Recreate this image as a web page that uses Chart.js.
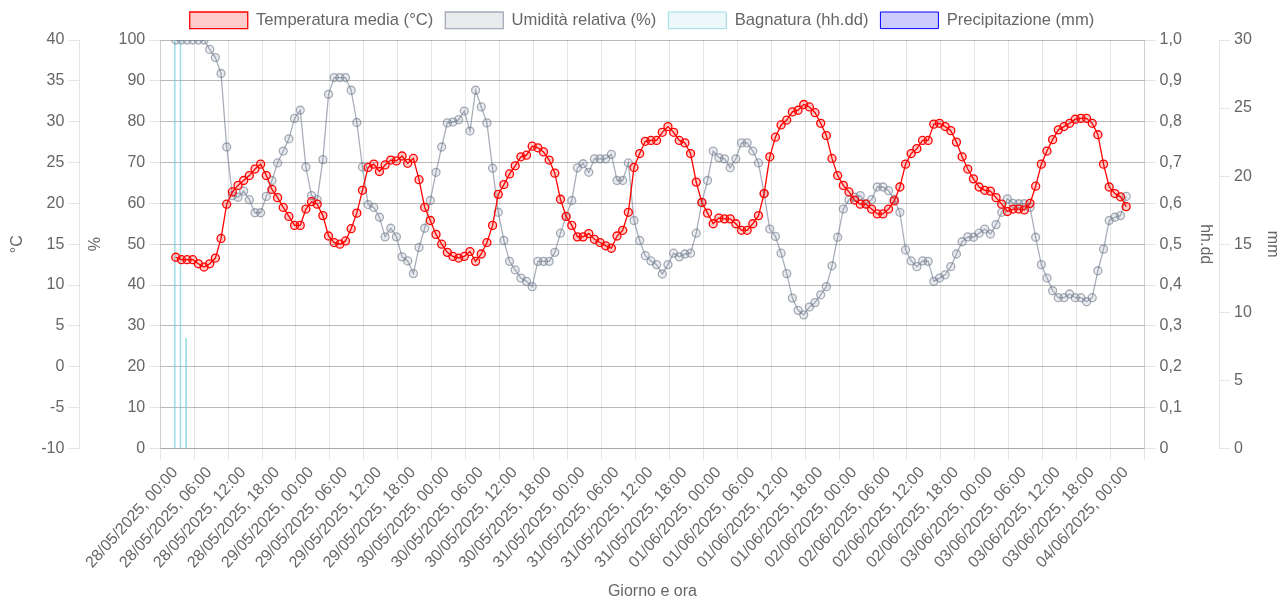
<!DOCTYPE html>
<html>
<head>
<meta charset="utf-8">
<script src="https://cdn.jsdelivr.net/npm/chart.js@4.4.1/dist/chart.umd.min.js"></script>
<style>
html, body { margin: 0; padding: 0; background: #ffffff; }
#wrap { width: 1284px; height: 598px; position: relative; }
</style>
</head>
<body>
<div id="wrap"><canvas id="chart"></canvas></div>
<script>
// ---- tick labels of the time axis (every 6 hours) ----
const xTickLabels = [
  '28/05/2025, 00:00', '28/05/2025, 06:00', '28/05/2025, 12:00', '28/05/2025, 18:00',
  '29/05/2025, 00:00', '29/05/2025, 06:00', '29/05/2025, 12:00', '29/05/2025, 18:00',
  '30/05/2025, 00:00', '30/05/2025, 06:00', '30/05/2025, 12:00', '30/05/2025, 18:00',
  '31/05/2025, 00:00', '31/05/2025, 06:00', '31/05/2025, 12:00', '31/05/2025, 18:00',
  '01/06/2025, 00:00', '01/06/2025, 06:00', '01/06/2025, 12:00', '01/06/2025, 18:00',
  '02/06/2025, 00:00', '02/06/2025, 06:00', '02/06/2025, 12:00', '02/06/2025, 18:00',
  '03/06/2025, 00:00', '03/06/2025, 06:00', '03/06/2025, 12:00', '03/06/2025, 18:00',
  '04/06/2025, 00:00'
];

// first hourly reading, in hours after 28/05/2025 00:00
const firstReadingHour = 2.75;

// ---- series (hourly readings) ----
const temperature = [
  13.4, 13.1, 13.1, 13.1, 12.6, 12.2, 12.6, 13.3, 15.7, 19.9,
  21.4, 22.2, 22.8, 23.4, 24.2, 24.8, 23.4, 21.7, 20.7, 19.5,
  18.4, 17.3, 17.3, 19.3, 20.2, 19.9, 18.5, 16.0, 15.2, 15.0,
  15.4, 16.9, 18.8, 21.6, 24.4, 24.8, 23.9, 24.7, 25.3, 25.2,
  25.8, 24.9, 25.5, 22.9, 19.5, 17.9, 16.2, 15.0, 14.0, 13.5,
  13.3, 13.5, 14.1, 12.9, 13.8, 15.2, 17.3, 21.1, 22.3, 23.6,
  24.6, 25.7, 25.9, 27.0, 26.8, 26.3, 25.3, 23.7, 20.5, 18.4,
  17.3, 15.9, 15.9, 16.3, 15.6, 15.2, 14.8, 14.5, 16.0, 16.7,
  18.9, 24.4, 26.1, 27.6, 27.7, 27.7, 28.7, 29.4, 28.7, 27.7,
  27.4, 26.1, 22.6, 20.1, 18.8, 17.5, 18.2, 18.1, 18.1, 17.5,
  16.7, 16.7, 17.5, 18.5, 21.2, 25.7, 28.1, 29.6, 30.2, 31.2,
  31.4, 32.1, 31.8, 31.1, 29.8, 28.3, 25.5, 23.4, 22.2, 21.4,
  20.4, 19.9, 19.9, 19.3, 18.7, 18.7, 19.3, 20.3, 22.0, 24.8,
  26.1, 26.7, 27.7, 27.7, 29.7, 29.8, 29.4, 28.9, 27.5, 25.7,
  24.2, 23.0, 22.0, 21.6, 21.5, 20.7, 19.9, 19.0, 19.3, 19.3,
  19.2, 20.0, 22.1, 24.8, 26.4, 27.8, 29.0, 29.4, 29.8, 30.3,
  30.4, 30.4, 29.8, 28.4, 24.8, 22.0, 21.2, 20.8, 19.6
];

const humidity = [
  100, 100, 100, 100, 100, 100, 97.7, 95.7, 91.8, 73.8,
  61.9, 61.5, 63.0, 60.9, 57.7, 57.7, 61.7, 65.6, 69.9, 72.8,
  75.8, 80.8, 82.8, 68.9, 61.9, 60.9, 70.7, 86.7, 90.8, 90.8,
  90.8, 87.7, 79.8, 68.9, 59.7, 59.0, 56.6, 51.8, 53.9, 51.8,
  46.9, 45.9, 42.8, 49.2, 53.9, 60.7, 67.6, 73.8, 79.7, 79.9,
  80.5, 82.6, 77.7, 87.7, 83.6, 79.7, 68.6, 57.8, 50.9, 45.8,
  43.7, 41.7, 40.9, 39.6, 45.8, 45.8, 45.8, 48.0, 52.7, 56.8,
  60.7, 68.7, 69.7, 67.6, 70.9, 70.9, 70.9, 72.0, 65.6, 65.6,
  69.9, 55.8, 50.9, 47.2, 45.9, 45.0, 42.7, 45.0, 47.8, 46.9,
  47.6, 47.8, 52.7, 60.3, 65.6, 72.8, 71.2, 70.9, 68.7, 70.9,
  74.8, 74.8, 72.8, 69.9, 62.4, 53.7, 51.9, 47.8, 42.8, 36.8,
  33.8, 32.7, 34.6, 35.7, 37.6, 39.6, 44.7, 51.7, 58.6, 60.9,
  61.5, 61.9, 59.9, 60.9, 64.0, 64.0, 63.1, 61.0, 57.8, 48.6,
  45.9, 44.5, 45.9, 45.8, 40.9, 41.7, 42.5, 44.5, 47.6, 50.6,
  51.8, 51.7, 52.7, 53.7, 52.5, 54.8, 57.8, 61.1, 60.0, 59.9,
  59.9, 59.0, 51.7, 45.0, 41.7, 38.6, 36.9, 36.9, 37.8, 36.9,
  36.9, 35.9, 36.9, 43.5, 48.8, 55.8, 56.6, 57.0, 61.7
];

const wetness = [
  1.0, 1.0, 0.27, 0, 0, 0, 0, 0, 0, 0,
  0, 0, 0, 0, 0, 0, 0, 0, 0, 0,
  0, 0, 0, 0, 0, 0, 0, 0, 0, 0,
  0, 0, 0, 0, 0, 0, 0, 0, 0, 0,
  0, 0, 0, 0, 0, 0, 0, 0, 0, 0,
  0, 0, 0, 0, 0, 0, 0, 0, 0, 0,
  0, 0, 0, 0, 0, 0, 0, 0, 0, 0,
  0, 0, 0, 0, 0, 0, 0, 0, 0, 0,
  0, 0, 0, 0, 0, 0, 0, 0, 0, 0,
  0, 0, 0, 0, 0, 0, 0, 0, 0, 0,
  0, 0, 0, 0, 0, 0, 0, 0, 0, 0,
  0, 0, 0, 0, 0, 0, 0, 0, 0, 0,
  0, 0, 0, 0, 0, 0, 0, 0, 0, 0,
  0, 0, 0, 0, 0, 0, 0, 0, 0, 0,
  0, 0, 0, 0, 0, 0, 0, 0, 0, 0,
  0, 0, 0, 0, 0, 0, 0, 0, 0, 0,
  0, 0, 0, 0, 0, 0, 0, 0, 0
];

const rain = [
  0, 0, 0, 0, 0, 0, 0, 0, 0, 0,
  0, 0, 0, 0, 0, 0, 0, 0, 0, 0,
  0, 0, 0, 0, 0, 0, 0, 0, 0, 0,
  0, 0, 0, 0, 0, 0, 0, 0, 0, 0,
  0, 0, 0, 0, 0, 0, 0, 0, 0, 0,
  0, 0, 0, 0, 0, 0, 0, 0, 0, 0,
  0, 0, 0, 0, 0, 0, 0, 0, 0, 0,
  0, 0, 0, 0, 0, 0, 0, 0, 0, 0,
  0, 0, 0, 0, 0, 0, 0, 0, 0, 0,
  0, 0, 0, 0, 0, 0, 0, 0, 0, 0,
  0, 0, 0, 0, 0, 0, 0, 0, 0, 0,
  0, 0, 0, 0, 0, 0, 0, 0, 0, 0,
  0, 0, 0, 0, 0, 0, 0, 0, 0, 0,
  0, 0, 0, 0, 0, 0, 0, 0, 0, 0,
  0, 0, 0, 0, 0, 0, 0, 0, 0, 0,
  0, 0, 0, 0, 0, 0, 0, 0, 0, 0,
  0, 0, 0, 0, 0, 0, 0, 0, 0
];

// ---- build chart data ----
const readingHours = temperature.map((_, i) => firstReadingHour + i);
const toPoints = (arr) => arr.map((v, i) => ({ x: readingHours[i], y: v }));

Chart.defaults.font.family = "'Liberation Sans', Arial, Helvetica, sans-serif";
Chart.defaults.font.size = 16;
Chart.defaults.color = '#666';

const yTitle = (text, pad) => ({ display: true, text: text, padding: pad });

// small spacing below the legend
const legendSpacing = {
  id: 'legendSpacing',
  afterInit(chart) {
    const lg = chart.legend;
    if (!lg || lg._spaced) return;
    const fit = lg.fit;
    lg.fit = function () { fit.call(this); this.height += 1.4; };
    lg._spaced = true;
  }
};

new Chart(document.getElementById('chart'), {
  type: 'line',
  plugins: [legendSpacing],
  data: {
    datasets: [
      {
        type: 'line',
        label: 'Temperatura media (°C)',
        data: toPoints(temperature),
        yAxisID: 'yTemp',
        borderColor: 'rgb(255, 0, 0)',
        backgroundColor: 'rgba(255, 0, 0, 0.2)',
        borderWidth: 1.3,
        pointRadius: 4,
        pointBorderWidth: 1.3,
        tension: 0
      },
      {
        type: 'line',
        label: 'Umidità relativa (%)',
        data: toPoints(humidity),
        yAxisID: 'yHum',
        borderColor: 'rgba(110, 122, 140, 0.6)',
        backgroundColor: 'rgba(110, 122, 140, 0.15)',
        borderWidth: 1.3,
        pointRadius: 4,
        pointBorderWidth: 1.3,
        tension: 0
      },
      {
        type: 'bar',
        label: 'Bagnatura (hh.dd)',
        data: toPoints(wetness),
        yAxisID: 'yWet',
        backgroundColor: 'rgba(100, 200, 215, 0.12)',
        borderColor: 'rgba(100, 200, 215, 0.6)',
        borderWidth: 1,
        barThickness: 2,
        inflateAmount: 0
      },
      {
        type: 'bar',
        label: 'Precipitazione (mm)',
        data: toPoints(rain),
        yAxisID: 'yRain',
        backgroundColor: 'rgba(0, 0, 255, 0.2)',
        borderColor: 'rgb(0, 0, 255)',
        borderWidth: 1,
        barThickness: 2,
        inflateAmount: 0
      }
    ]
  },
  options: {
    responsive: true,
    maintainAspectRatio: false,
    animation: false,
    locale: 'it-IT',
    plugins: {
      legend: {
        position: 'top',
        labels: { boxWidth: 58, boxHeight: 16.6, padding: 12, font: { size: 16.6 } }
      },
      tooltip: { enabled: false }
    },
    scales: {
      x: {
        type: 'linear',
        offset: false,
        min: 0,
        max: 174,
        grid: { tickLength: 11, offset: false },
        ticks: {
          stepSize: 6,
          autoSkip: false,
          minRotation: 48,
          maxRotation: 48,
          padding: 4,
          labelOffset: 15,
          callback: (v) => { const k = Math.round(v / 6); return xTickLabels[k] !== undefined ? xTickLabels[k] : ''; }
        },
        title: { display: true, text: 'Giorno e ora', padding: { top: 5.7, bottom: -3 } }
      },
      yHum: {
        position: 'left',
        min: 0, max: 100,
        grid: { tickLength: 11 },
        ticks: { stepSize: 10, padding: 4 },
        title: yTitle('%', { top: 7, bottom: 9 })
      },
      yTemp: {
        position: 'left',
        min: -10, max: 40,
        grid: { tickLength: 11 },
        ticks: { stepSize: 5, padding: 4 },
        title: yTitle('°C', { top: 8, bottom: 10 })
      },
      yWet: {
        position: 'right',
        min: 0, max: 1,
        grid: { tickLength: 11 },
        ticks: { stepSize: 0.1, padding: 4 },
        title: yTitle('hh.dd', { top: 4, bottom: 10 })
      },
      yRain: {
        position: 'right',
        min: 0, max: 30,
        grid: { tickLength: 11, drawOnChartArea: false },
        ticks: { stepSize: 5, padding: 4 },
        title: yTitle('mm', { top: 2, bottom: 7 })
      }
    }
  }
});
</script>
</body>
</html>
